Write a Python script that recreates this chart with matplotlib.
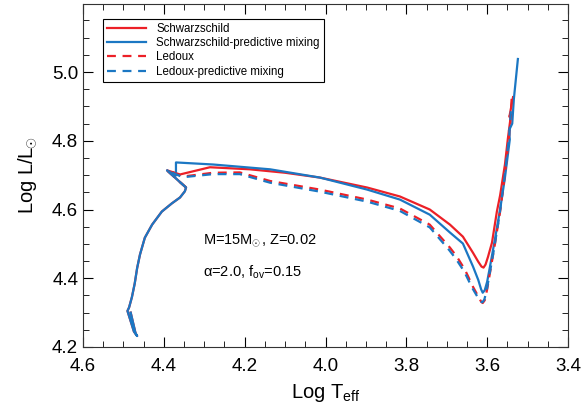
import numpy as np
import matplotlib.pyplot as plt

plt.rcParams['font.family'] = ['Liberation Sans', 'DejaVu Sans']
plt.rcParams['mathtext.fontset'] = 'custom'
plt.rcParams['mathtext.rm'] = 'Liberation Sans'
plt.rcParams['mathtext.it'] = 'Liberation Sans'

# main sequence shared by all tracks (log Teff, log L)
ms_T = [4.482, 4.470, 4.466, 4.474, 4.490, 4.486, 4.479, 4.472, 4.466, 4.459, 4.447,
        4.429, 4.405, 4.380, 4.360, 4.348, 4.345, 4.365, 4.392]
ms_L = [4.300, 4.240, 4.232, 4.245, 4.305, 4.315, 4.345, 4.385, 4.430, 4.469, 4.518,
        4.556, 4.594, 4.618, 4.635, 4.653, 4.664, 4.685, 4.714]

# Schwarzschild (gap crossing + red giant branch)
sch_T = [4.360, 4.286, 4.187, 4.100, 4.014, 3.897, 3.816, 3.742, 3.692, 3.660,
         3.635, 3.622, 3.614, 3.609, 3.604, 3.598, 3.588, 3.576, 3.568, 3.556,
         3.549, 3.541, 3.545, 3.536]
sch_L = [4.702, 4.723, 4.717, 4.707, 4.693, 4.664, 4.638, 4.600, 4.556, 4.521,
         4.474, 4.448, 4.434, 4.431, 4.440, 4.462, 4.504, 4.594, 4.641, 4.731,
         4.804, 4.877, 4.870, 4.927]

# Schwarzschild-predictive mixing
schp_T = [4.370, 4.370, 4.278, 4.137, 4.014, 3.897, 3.816, 3.742, 3.692, 3.660,
          3.635, 3.622, 3.615, 3.611, 3.606, 3.600, 3.593, 3.581, 3.568, 3.556,
          3.544, 3.546, 3.538, 3.534, 3.524]
schp_L = [4.699, 4.737, 4.731, 4.717, 4.693, 4.658, 4.629, 4.585, 4.533, 4.501,
          4.434, 4.395, 4.368, 4.358, 4.365, 4.390, 4.434, 4.512, 4.600, 4.693,
          4.804, 4.830, 4.850, 4.921, 5.038]

# Ledoux
led_T = [4.377, 4.353, 4.278, 4.212, 4.137, 4.014, 3.897, 3.816, 3.742, 3.692,
         3.675, 3.655, 3.635, 3.621, 3.615, 3.611, 3.606, 3.600, 3.593, 3.581,
         3.568, 3.556, 3.544, 3.539]
led_L = [4.708, 4.696, 4.707, 4.708, 4.683, 4.658, 4.629, 4.603, 4.556, 4.489,
         4.463, 4.425, 4.375, 4.345, 4.332, 4.328, 4.336, 4.368, 4.416, 4.498,
         4.594, 4.702, 4.834, 4.930]

# Ledoux-predictive mixing
ledp_T = [4.377, 4.353, 4.278, 4.212, 4.137, 4.014, 3.897, 3.816, 3.742, 3.694,
          3.677, 3.657, 3.637, 3.623, 3.617, 3.612, 3.607, 3.601, 3.594, 3.582,
          3.569, 3.557, 3.545, 3.541]
ledp_L = [4.706, 4.694, 4.703, 4.703, 4.678, 4.652, 4.623, 4.596, 4.548, 4.482,
          4.456, 4.420, 4.372, 4.344, 4.333, 4.330, 4.338, 4.366, 4.412, 4.492,
          4.588, 4.695, 4.820, 4.892]

red = '#ec2027'
blue = '#1b77c3'

fig = plt.figure(figsize=(5.86, 4.09), dpi=100)
ax = fig.add_axes([83/586, 62/409, 485/586, 343/409])

ax.plot(ms_T + sch_T, ms_L + sch_L, color=red, lw=1.6, label='Schwarzschild')
ax.plot(ms_T + schp_T, ms_L + schp_L, color=blue, lw=1.6,
        label='Schwarzschild-predictive mixing')
ax.plot(ms_T[-3:] + led_T, ms_L[-3:] + led_L, color=red, lw=1.6, ls=(0, (4, 3)),
        label='Ledoux')
ax.plot(ms_T[-3:] + ledp_T, ms_L[-3:] + ledp_L, color=blue, lw=1.6, ls=(0, (4, 3)),
        label='Ledoux-predictive mixing')

ax.text(4.304, 4.509, r'M=15M$_{\!\!\odot}$, Z=0.02', fontsize=10.5, va='center')
ax.text(4.304, 4.416, r'$\alpha$=2.0, f$_{\rm ov}$=0.15', fontsize=10.5, va='center')

ax.set_xlim(4.6, 3.4)
ax.set_ylim(4.2, 5.198)
ax.set_xticks(np.arange(4.6, 3.39, -0.2))
ax.set_yticks([4.2, 4.4, 4.6, 4.8, 5.0])
ax.set_xticks(np.arange(3.4, 4.61, 0.05), minor=True)
ax.set_yticks(np.arange(4.2, 5.2, 0.05), minor=True)
ax.xaxis.set_major_formatter(plt.FormatStrFormatter('%.1f'))
ax.yaxis.set_major_formatter(plt.FormatStrFormatter('%.1f'))
ax.tick_params(which='both', direction='in', top=True, right=True, labelsize=13.5)
ax.tick_params(which='major', length=7)
ax.tick_params(which='minor', length=4)
ax.tick_params(axis='x', pad=8)
for s in ax.spines.values():
    s.set_color('#333333')

ax.set_xlabel(r'Log T$_{\rm eff}$', fontsize=14.5, labelpad=5)
ax.set_ylabel(r'Log L/L$_{\!\!\odot}$', fontsize=14.5, labelpad=9)

leg = ax.legend(loc='upper left', bbox_to_anchor=(0.041, 0.957), borderaxespad=0,
                fontsize=8.3, handlelength=3.4, labelspacing=0.2, borderpad=0.35,
                handletextpad=0.9, fancybox=False, framealpha=1)
leg.get_frame().set_edgecolor('black')
leg.get_frame().set_linewidth(0.8)

fig.savefig('out.png', dpi=100)
